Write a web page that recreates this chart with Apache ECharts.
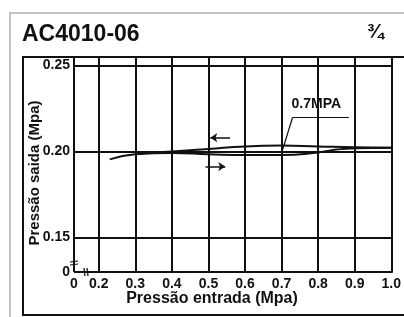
<!DOCTYPE html>
<html lang="en">
<head>
    <meta charset="UTF-8">
    <title>AC4010-06</title>
    <script src="https://cdn.jsdelivr.net/npm/echarts@6/dist/echarts.min.js"></script>
    <style>
        html, body { margin: 0; padding: 0; background: #fff; }
        #chart { width: 404px; height: 317px; }
    </style>
</head>
<body>
<div id="chart"></div>
<script type="text/javascript">
    // tick labels shown on the axes
    var xTicks = [0, 0.2, 0.3, 0.4, 0.5, 0.6, 0.7, 0.8, 0.9, 1.0];
    var yTicks = [0, 0.15, 0.20, 0.25];

    // rising inlet pressure (lower branch)
    var riseX = [0.23, 0.3, 0.4, 0.5, 0.6, 0.7, 0.8, 0.85, 0.9, 1.0];
    var riseY = [0.1955, 0.1985, 0.1992, 0.1985, 0.198, 0.198, 0.1995, 0.2012, 0.202, 0.2023];
    // falling inlet pressure (upper branch)
    var fallX = [1.0, 0.9, 0.8, 0.7, 0.6, 0.5, 0.4, 0.3];
    var fallY = [0.2023, 0.2025, 0.203, 0.2035, 0.203, 0.2015, 0.2, 0.1988];

    var ink = '#111';
    var font = 'Liberation Sans, Arial, sans-serif';

    function pairs(xs, ys) {
        return xs.map(function (x, i) { return [x, ys[i]]; });
    }
    function hasTick(list, v) {
        return list.some(function (t) { return Math.abs(t - v) < 1e-6; });
    }

    var myChart = echarts.init(document.getElementById('chart'));
    var option = {
        backgroundColor: '#fff',
        animation: false,
        grid: { left: 74, right: 9, top: 57, bottom: 45 },
        xAxis: {
            type: 'value',
            min: 0,
            max: 1.0,
            interval: 0.1,
            breaks: [{ start: 0, end: 0.2, gap: '7.8%' }],
            breakArea: { show: false },
            axisLine: { lineStyle: { color: ink, width: 2 } },
            axisTick: { show: false },
            splitLine: { show: true, lineStyle: { color: ink, width: 2 } },
            axisLabel: {
                color: ink, fontFamily: font, fontWeight: 'bold', fontSize: 14, margin: 5,
                formatter: function (v) {
                    if (!hasTick(xTicks, v)) return '';
                    return v === 0 ? '0' : v.toFixed(1);
                }
            }
        },
        yAxis: {
            type: 'value',
            min: 0,
            max: 0.255,
            interval: 0.05,
            breaks: [{ start: 0, end: 0.15, gap: '16%' }],
            breakArea: { show: false },
            axisLine: { show: true, lineStyle: { color: ink, width: 2 } },
            axisTick: { show: false },
            splitLine: { show: true, lineStyle: { color: ink, width: 2 } },
            axisLabel: {
                color: ink, fontFamily: font, fontWeight: 'bold', fontSize: 14, margin: 4,
                formatter: function (v) {
                    if (!hasTick(yTicks, v)) return '';
                    return v === 0 ? '0' : v.toFixed(2);
                }
            }
        },
        series: [
            {
                type: 'line',
                data: pairs(riseX, riseY),
                smooth: true,
                symbol: 'none',
                lineStyle: { color: ink, width: 2 },
                markLine: {
                    silent: true,
                    symbol: ['none', 'arrow'],
                    symbolSize: 7,
                    label: { show: false },
                    lineStyle: { color: ink, width: 1.5, type: 'solid' },
                    data: [
                        [{ coord: [0.559, 0.2081] }, { coord: [0.505, 0.2081] }],
                        [{ coord: [0.492, 0.1913] }, { coord: [0.546, 0.1913] }]
                    ]
                }
            },
            {
                type: 'line',
                data: pairs(fallX, fallY),
                smooth: true,
                symbol: 'none',
                lineStyle: { color: ink, width: 2 },
                markLine: {
                    silent: true,
                    symbol: 'none',
                    label: { show: false },
                    lineStyle: { color: ink, width: 1.2, type: 'solid' },
                    data: [
                        [{ coord: [0.703, 0.2012] }, { coord: [0.73, 0.2198] }],
                        [{ coord: [0.73, 0.2198] }, { coord: [0.884, 0.2198] }]
                    ]
                },
                markPoint: {
                    silent: true,
                    symbol: 'circle',
                    symbolSize: 0,
                    label: {
                        show: true, formatter: '0.7MPA', color: ink,
                        fontFamily: font, fontWeight: 'bold', fontSize: 14
                    },
                    data: [{ coord: [0.795, 0.2274] }]
                }
            },
            {
                // grid lines at the break edges (not drawn by splitLine)
                type: 'line',
                data: [],
                markLine: {
                    silent: true,
                    symbol: 'none',
                    label: { show: false },
                    lineStyle: { color: ink, width: 2, type: 'solid' },
                    data: [{ xAxis: xTicks[1] }, { yAxis: yTicks[1] }]
                }
            }
        ],
        graphic: [
            { type: 'rect', shape: { x: 10, y: 13, width: 420, height: 320 },
              style: { fill: null, stroke: '#c4c4c4', lineWidth: 2 }, silent: true },
            { type: 'rect', shape: { x: 23, y: 57, width: 400, height: 258 },
              style: { fill: null, stroke: ink, lineWidth: 2 }, silent: true },
            { type: 'text', left: 22, top: 23,
              style: { text: 'AC4010-06', font: 'bold 23px ' + font, fill: ink } },
            { type: 'text', left: 367, top: 22,
              style: { text: '¾', font: 'bold 20px ' + font, fill: ink } },
            { type: 'text', x: 35, y: 173, rotation: Math.PI / 2,
              style: { text: 'Pressão saida (Mpa)', font: 'bold 15px ' + font, fill: ink,
                       align: 'center', verticalAlign: 'middle' } },
            { type: 'text', x: 212, y: 299,
              style: { text: 'Pressão entrada (Mpa)', font: 'bold 16px ' + font, fill: ink,
                       align: 'center', verticalAlign: 'middle' } },
            // little break marks near the origin
            { type: 'line', shape: { x1: 70, y1: 262, x2: 78, y2: 261 }, style: { stroke: ink, lineWidth: 1.2 } },
            { type: 'line', shape: { x1: 70, y1: 265, x2: 78, y2: 264 }, style: { stroke: ink, lineWidth: 1.2 } },
            { type: 'line', shape: { x1: 84, y1: 268, x2: 85, y2: 276 }, style: { stroke: ink, lineWidth: 1.2 } },
            { type: 'line', shape: { x1: 87, y1: 268, x2: 88, y2: 276 }, style: { stroke: ink, lineWidth: 1.2 } }
        ]
    };
    myChart.setOption(option);
</script>
</body>
</html>
